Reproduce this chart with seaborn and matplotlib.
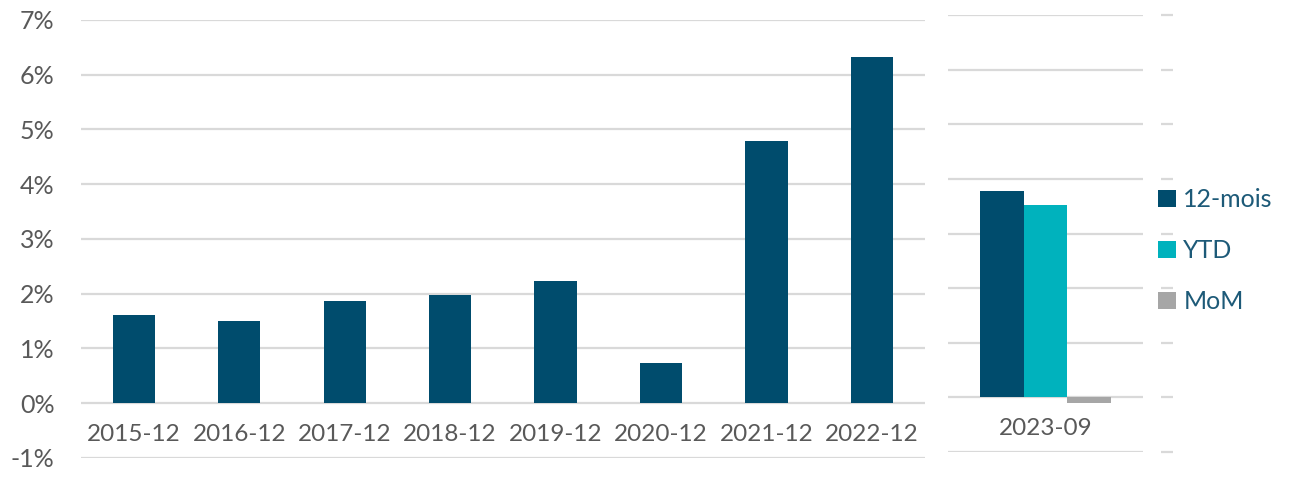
import pandas as pd
import seaborn as sns
import matplotlib.pyplot as plt
from matplotlib.ticker import FuncFormatter, MultipleLocator

# yearly 12-month change (%)
years = ['2015-12', '2016-12', '2017-12', '2018-12', '2019-12', '2020-12', '2021-12', '2022-12']
yearly_vals = [1.61, 1.51, 1.86, 1.98, 2.24, 0.74, 4.79, 6.33]

# latest month
latest_period = ['2023-09']
series_names = ['12-mois', 'YTD', 'MoM']
latest_vals = [3.77, 3.52, -0.11]

DARK = '#004c6d'
TEAL = '#00b2bd'
GREY = '#a6a6a6'
GRID = '#d9d9d9'
TXT = '#595959'

sns.set_style('white')
plt.rcParams['font.family'] = ['Lato', 'DejaVu Sans']

fig = plt.figure(figsize=(12.96, 4.82), dpi=100)
ax = fig.add_axes([0.0625, 0.0498, 0.651, 0.909])
ax2 = fig.add_axes([0.7315, 0.0622, 0.1505, 0.9066])

# left panel
df_years = pd.DataFrame({'period': years, 'value': yearly_vals})
sns.barplot(data=df_years, x='period', y='value', color=DARK, saturation=1,
            width=0.4, ax=ax)

# right panel
df_latest = pd.DataFrame({'period': latest_period * len(series_names),
                          'serie': series_names, 'value': latest_vals})
sns.barplot(data=df_latest, x='period', y='value', hue='serie', hue_order=series_names,
            palette=[DARK, TEAL, GREY], saturation=1, width=0.67, ax=ax2)

for a in (ax, ax2):
    a.set_ylim(-1, 7)
    a.yaxis.set_major_locator(MultipleLocator(1))
    a.grid(axis='y', color=GRID, linewidth=1.6)
    a.set_axisbelow(True)
    a.set_xlabel('')
    a.set_ylabel('')
    for s in a.spines.values():
        s.set_visible(False)
    a.spines['bottom'].set_position(('data', 0))
    a.tick_params(axis='x', length=0, pad=15, labelsize=17.5, labelcolor=TXT)
    for b in a.patches:
        b.set_edgecolor('none')

ax.yaxis.set_major_formatter(FuncFormatter(lambda v, p: f'{v:.0f}%'))
ax.tick_params(axis='y', length=0, pad=19, labelsize=18, labelcolor=TXT)

# little dashes right of the small panel
ax2.yaxis.tick_right()
ax2.spines['right'].set_position(('outward', 13))
ax2.tick_params(axis='y', direction='out', length=8.6, width=1.6, color=GRID,
                labelright=False, labelleft=False)

handles, labels = ax2.get_legend_handles_labels()
ax2.get_legend().remove()
fig.legend(handles, labels, loc='upper left', bbox_to_anchor=(0.886, 0.63),
           frameon=False, fontsize=18, labelcolor='#1d5a78',
           handlelength=0.7, handleheight=0.7, handletextpad=0.3,
           labelspacing=1.12, borderaxespad=0)

fig.savefig('out.png', dpi=100)
